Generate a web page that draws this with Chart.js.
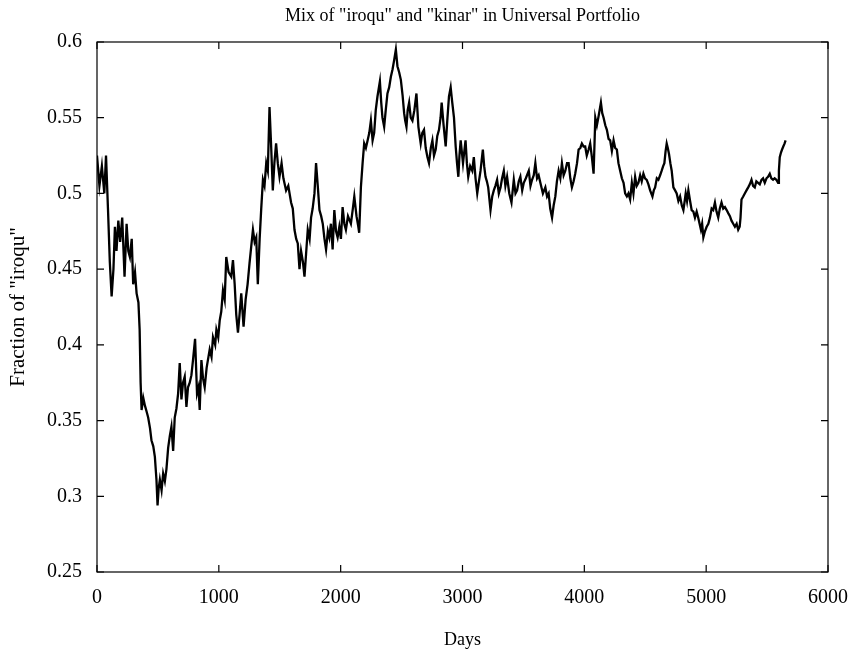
<!DOCTYPE html>
<html>
<head>
<meta charset="utf-8">
<title>Universal Portfolio</title>
<script src="https://cdn.jsdelivr.net/npm/chart.js@4.4.0/dist/chart.umd.min.js"></script>
<style>
  html, body { margin: 0; padding: 0; background: #fff; }
  #wrap { width: 854px; height: 651px; }
</style>
</head>
<body>
<div id="wrap"><canvas id="mixChart" width="854" height="651"></canvas></div>
<script>
// days and fraction of "iroqu"
const days = [
  0, 20, 40, 60, 74, 90, 105, 120, 135, 147, 160, 175, 190, 207, 226, 243, 257, 270, 285, 297,
  312, 325, 340, 350, 358, 366, 380, 393, 407, 420, 435, 447, 462, 475, 488, 497, 506, 516, 530, 543,
  557, 570, 584, 598, 611, 625, 638, 652, 666, 679, 693, 706, 720, 734, 747, 761, 775, 788, 805, 821,
  833, 843, 857, 870, 884, 900, 925, 940, 952, 970, 980, 995, 1007, 1020, 1034, 1048, 1061, 1080, 1102, 1116,
  1130, 1143, 1157, 1170, 1184, 1203, 1220, 1236, 1252, 1266, 1280, 1294, 1307, 1320, 1335, 1348, 1362, 1375, 1389, 1402,
  1416, 1430, 1443, 1456, 1470, 1484, 1498, 1515, 1530, 1552, 1570, 1593, 1607, 1621, 1635, 1648, 1662, 1675, 1690, 1703,
  1716, 1730, 1745, 1757, 1770, 1785, 1798, 1812, 1826, 1840, 1853, 1867, 1880, 1895, 1907, 1920, 1934, 1948, 1962, 1975,
  1989, 2002, 2016, 2030, 2043, 2060, 2084, 2100, 2112, 2130, 2145, 2152, 2166, 2180, 2193, 2207, 2221, 2235, 2248, 2262,
  2275, 2288, 2302, 2322, 2333, 2343, 2357, 2370, 2384, 2398, 2412, 2426, 2439, 2453, 2466, 2480, 2494, 2508, 2521, 2530,
  2540, 2550, 2562, 2575, 2589, 2605, 2622, 2638, 2657, 2670, 2684, 2698, 2712, 2725, 2740, 2753, 2766, 2780, 2793, 2807,
  2820, 2829, 2845, 2862, 2875, 2889, 2903, 2916, 2930, 2944, 2955, 2966, 2975, 2985, 3004, 3015, 3025, 3036, 3047, 3063,
  3080, 3093, 3107, 3121, 3135, 3148, 3167, 3178, 3189, 3200, 3211, 3230, 3244, 3257, 3270, 3284, 3298, 3312, 3325, 3339,
  3352, 3366, 3384, 3402, 3421, 3435, 3448, 3462, 3475, 3490, 3503, 3520, 3544, 3558, 3571, 3585, 3598, 3612, 3625, 3639,
  3660, 3680, 3694, 3707, 3720, 3735, 3748, 3762, 3775, 3789, 3803, 3816, 3830, 3844, 3858, 3871, 3885, 3898, 3912, 3925,
  3940, 3953, 3967, 3980, 3994, 4007, 4020, 4035, 4048, 4062, 4076, 4090, 4103, 4117, 4136, 4147, 4158, 4172, 4185, 4199,
  4212, 4226, 4240, 4253, 4267, 4280, 4294, 4308, 4322, 4335, 4349, 4362, 4376, 4390, 4403, 4417, 4430, 4444, 4458, 4471,
  4485, 4498, 4512, 4526, 4540, 4559, 4570, 4581, 4595, 4608, 4622, 4635, 4647, 4657, 4667, 4676, 4685, 4695, 4706, 4717,
  4731, 4745, 4758, 4772, 4786, 4800, 4813, 4822, 4832, 4843, 4854, 4868, 4881, 4895, 4908, 4922, 4935, 4946, 4957, 4967,
  4977, 4990, 5004, 5018, 5031, 5045, 5058, 5072, 5085, 5099, 5112, 5126, 5140, 5154, 5168, 5181, 5195, 5208, 5222, 5236,
  5250, 5263, 5275, 5282, 5290, 5304, 5317, 5331, 5345, 5358, 5372, 5385, 5399, 5412, 5426, 5440, 5454, 5467, 5481, 5495,
  5508, 5522, 5535, 5549, 5562, 5576, 5590, 5597, 5604, 5614, 5623, 5633, 5644, 5652
];
const fraction = [
  0.525, 0.505, 0.518, 0.500, 0.525, 0.490, 0.455, 0.432, 0.450, 0.478, 0.462, 0.482, 0.468, 0.484, 0.445, 0.480, 0.462, 0.458, 0.470, 0.440,
  0.448, 0.434, 0.428, 0.410, 0.375, 0.357, 0.365, 0.360, 0.356, 0.352, 0.345, 0.337, 0.333, 0.326, 0.311, 0.294, 0.305, 0.311, 0.304, 0.315,
  0.310, 0.318, 0.332, 0.340, 0.346, 0.330, 0.352, 0.358, 0.368, 0.388, 0.364, 0.375, 0.379, 0.359, 0.372, 0.375, 0.380, 0.390, 0.404, 0.368,
  0.372, 0.357, 0.390, 0.378, 0.372, 0.385, 0.397, 0.392, 0.405, 0.400, 0.410, 0.405, 0.416, 0.422, 0.436, 0.430, 0.458, 0.448, 0.445, 0.456,
  0.440, 0.420, 0.408, 0.420, 0.434, 0.412, 0.430, 0.440, 0.454, 0.465, 0.476, 0.468, 0.471, 0.440, 0.470, 0.490, 0.509, 0.505, 0.520, 0.515,
  0.557, 0.530, 0.502, 0.520, 0.533, 0.520, 0.511, 0.520, 0.510, 0.502, 0.505, 0.494, 0.490, 0.476, 0.470, 0.467, 0.450, 0.462, 0.455, 0.445,
  0.460, 0.476, 0.470, 0.484, 0.490, 0.500, 0.520, 0.505, 0.489, 0.485, 0.480, 0.470, 0.463, 0.475, 0.471, 0.480, 0.463, 0.489, 0.475, 0.471,
  0.478, 0.470, 0.491, 0.480, 0.476, 0.485, 0.480, 0.490, 0.498, 0.485, 0.478, 0.474, 0.504, 0.520, 0.533, 0.530, 0.535, 0.540, 0.548, 0.535,
  0.540, 0.555, 0.564, 0.574, 0.560, 0.550, 0.544, 0.555, 0.566, 0.570, 0.577, 0.582, 0.588, 0.595, 0.584, 0.580, 0.575, 0.565, 0.553, 0.548,
  0.544, 0.555, 0.560, 0.550, 0.548, 0.555, 0.566, 0.544, 0.533, 0.540, 0.542, 0.530, 0.524, 0.520, 0.530, 0.535, 0.525, 0.529, 0.538, 0.542,
  0.550, 0.560, 0.545, 0.531, 0.548, 0.564, 0.570, 0.560, 0.550, 0.531, 0.520, 0.511, 0.525, 0.535, 0.520, 0.528, 0.535, 0.520, 0.511, 0.518,
  0.515, 0.524, 0.510, 0.500, 0.508, 0.515, 0.529, 0.518, 0.511, 0.508, 0.504, 0.489, 0.498, 0.502, 0.505, 0.509, 0.500, 0.504, 0.510, 0.515,
  0.505, 0.511, 0.500, 0.494, 0.509, 0.500, 0.502, 0.508, 0.511, 0.502, 0.507, 0.510, 0.515, 0.505, 0.509, 0.512, 0.520, 0.510, 0.512, 0.507,
  0.500, 0.504, 0.498, 0.500, 0.490, 0.484, 0.492, 0.498, 0.508, 0.515, 0.510, 0.520, 0.512, 0.515, 0.520, 0.520, 0.510, 0.504, 0.508, 0.513,
  0.520, 0.529, 0.530, 0.533, 0.531, 0.531, 0.525, 0.529, 0.533, 0.524, 0.513, 0.550, 0.545, 0.551, 0.560, 0.553, 0.550, 0.545, 0.542, 0.536,
  0.535, 0.528, 0.535, 0.530, 0.529, 0.520, 0.515, 0.510, 0.507, 0.500, 0.498, 0.500, 0.496, 0.507, 0.500, 0.511, 0.505, 0.507, 0.512, 0.508,
  0.513, 0.510, 0.509, 0.506, 0.502, 0.498, 0.502, 0.504, 0.510, 0.509, 0.512, 0.515, 0.518, 0.520, 0.528, 0.533, 0.530, 0.526, 0.520, 0.515,
  0.504, 0.502, 0.500, 0.495, 0.498, 0.492, 0.489, 0.494, 0.500, 0.495, 0.502, 0.495, 0.489, 0.488, 0.484, 0.488, 0.484, 0.480, 0.476, 0.480,
  0.471, 0.475, 0.478, 0.480, 0.484, 0.490, 0.489, 0.494, 0.488, 0.484, 0.490, 0.494, 0.490, 0.491, 0.489, 0.487, 0.485, 0.482, 0.480, 0.478,
  0.480, 0.476, 0.478, 0.484, 0.496, 0.498, 0.500, 0.502, 0.504, 0.506, 0.509, 0.505, 0.504, 0.508, 0.507, 0.506, 0.509, 0.510, 0.507, 0.510,
  0.511, 0.513, 0.510, 0.509, 0.510, 0.509, 0.507, 0.515, 0.524, 0.527, 0.529, 0.531, 0.533, 0.535
];
const xTicks = [0, 1000, 2000, 3000, 4000, 5000, 6000];
const yTicks = [0.25, 0.3, 0.35, 0.4, 0.45, 0.5, 0.55, 0.6];

const serif = "'Liberation Serif', 'DejaVu Serif', serif";

// matlab style box with ticks pointing inward
const boxTicks = {
  id: 'boxTicks',
  afterDraw(chart) {
    const ctx = chart.ctx;
    const a = chart.chartArea;
    const x = chart.scales.x, y = chart.scales.y;
    ctx.save();
    ctx.strokeStyle = '#000';
    ctx.lineWidth = 1.2;
    ctx.strokeRect(a.left, a.top, a.right - a.left, a.bottom - a.top);
    ctx.beginPath();
    x.ticks.forEach(function (t) {
      const px = x.getPixelForValue(t.value);
      ctx.moveTo(px, a.bottom); ctx.lineTo(px, a.bottom - 7);
      ctx.moveTo(px, a.top); ctx.lineTo(px, a.top + 7);
    });
    y.ticks.forEach(function (t) {
      const py = y.getPixelForValue(t.value);
      ctx.moveTo(a.left, py); ctx.lineTo(a.left + 7, py);
      ctx.moveTo(a.right, py); ctx.lineTo(a.right - 7, py);
    });
    ctx.stroke();
    ctx.restore();
  }
};

let ctx = document.getElementById('mixChart');
let mixChart = new Chart(ctx, {
  type: 'line',
  data: {
    datasets: [{
      label: 'iroqu',
      data: days.map((d, i) => ({ x: d, y: fraction[i] })),
      borderColor: '#000',
      borderWidth: 2.3,
      pointRadius: 0,
      tension: 0,
      fill: false
    }]
  },
  options: {
    responsive: false,
    animation: false,
    layout: { padding: { left: 0, right: 24, top: 0, bottom: 0 } },
    plugins: {
      legend: { display: false },
      tooltip: { enabled: false },
      title: {
        display: true,
        text: 'Mix of "iroqu" and "kinar" in Universal Portfolio',
        color: '#000',
        fullSize: false,
        font: { family: serif, size: 18, weight: 'normal' },
        padding: { top: 5, bottom: 15.4 }
      }
    },
    scales: {
      x: {
        type: 'linear',
        min: 0,
        max: 6000,
        afterBuildTicks: s => { s.ticks = xTicks.map(v => ({ value: v })); },
        afterFit: s => { s.height = 79; },
        grid: { display: false },
        border: { display: false },
        ticks: {
          color: '#000',
          padding: 6,
          maxRotation: 0,
          font: { family: serif, size: 20 },
          callback: v => String(v)
        },
        title: {
          display: true,
          text: 'Days',
          color: '#000',
          font: { family: serif, size: 18 },
          padding: { top: 4, bottom: 0 }
        }
      },
      y: {
        min: 0.25,
        max: 0.6,
        afterBuildTicks: s => { s.ticks = yTicks.map(v => ({ value: v })); },
        afterFit: s => { s.width = 97; },
        grid: { display: false },
        border: { display: false },
        ticks: {
          color: '#000',
          padding: 7,
          font: { family: serif, size: 20 },
          callback: v => String(Number(v.toFixed(2)))
        },
        title: {
          display: true,
          text: 'Fraction of "iroqu"',
          color: '#000',
          font: { family: serif, size: 21 },
          padding: { top: 6, bottom: 0 }
        }
      }
    }
  },
  plugins: [boxTicks]
});
</script>
</body>
</html>
